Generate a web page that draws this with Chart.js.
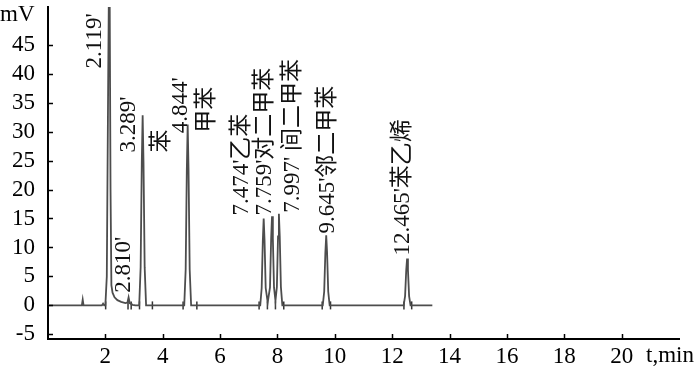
<!DOCTYPE html>
<html>
<head>
<meta charset="utf-8">
<script src="https://cdn.jsdelivr.net/npm/chart.js@4/dist/chart.umd.min.js"></script>
<style>
html,body{margin:0;padding:0;background:#fff;}
#wrap{width:700px;height:372px;position:relative;}
</style>
</head>
<body>
<div id="wrap"><canvas id="c" width="700" height="372"></canvas></div>
<script>
// ---- data ----
const timeMin = [0, 1.18, 1.21, 1.24, 1.88, 1.92, 1.96, 2.00, 2.05, 2.10, 2.14, 2.18, 2.21, 2.25, 2.32, 2.42, 2.55, 2.70, 2.77, 2.81, 2.85, 2.95, 3.05,
  3.18, 3.23, 3.27, 3.30, 3.33, 3.37, 3.42,
  4.75, 4.80, 4.84, 4.87, 4.90, 4.94, 4.99,
  7.40, 7.45, 7.49, 7.52, 7.55, 7.59, 7.66, 7.74, 7.78, 7.81, 7.84, 7.88, 7.93, 7.98, 8.02, 8.05, 8.08, 8.12, 8.17,
  9.58, 9.63, 9.67, 9.70, 9.73, 9.77, 9.82,
  12.40, 12.45, 12.49, 12.52, 12.55, 12.59, 12.64, 13.40];
const signalMV = [0, 0, 1.0, 0, 0, 0.3, 0, 0, 5, 40, 65, 20, 3.5, 2.2, 1.4, 0.9, 0.6, 0.4, 0.5, 1.4, 0.4, 0.1, 0,
  0, 6.6, 24.6, 32.8, 24.6, 6.6, 0,
  0, 6.2, 23.4, 31.2, 23.4, 6.2, 0,
  0, 3.0, 11.2, 15.0, 11.2, 3.0, 0.5, 3.1, 11.5, 15.4, 11.5, 3.1, 0.8, 3.2, 11.9, 15.8, 11.9, 3.2, 0,
  0, 2.4, 9.1, 12.1, 9.1, 2.4, 0,
  0, 1.6, 6.1, 8.1, 6.1, 1.6, 0, 0];
const markerTimes = [2.01, 2.79, 2.90, 3.19, 3.64, 4.71, 5.19, 7.36, 7.65, 7.93, 8.22, 9.56, 9.85, 12.41, 12.68];
const xTickValues = [2, 4, 6, 8, 10, 12, 14, 16, 18, 20];
const yTickValues = [-5, 0, 5, 10, 15, 20, 25, 30, 35, 40, 45];
const peakLabels = ["2.119'", "2.810'", "3.289'", "苯", "4.844'", "甲苯", "7.474'乙苯", "7.759'对二甲苯", "7.997' 间二甲苯", "9.645'邻二甲苯", "12.465'苯乙烯"];
const peakLabelTime = [1.62, 2.64, 2.81, 3.96, 4.62, 5.53, 6.75, 7.57, 8.53, 9.76, 12.37];
const peakLabelValue = [40.9, 2.2, 26.4, 26.4, 29.7, 29.8, 15.5, 15.5, 16.0, 12.4, 8.6];
const yUnit = "mV";
const xUnit = "t,min";

// ---- chart ----
const FONT = '"Liberation Serif", "Times New Roman", "Noto Sans CJK SC", serif';
const lineData = timeMin.map((t, i) => ({x: t, y: signalMV[i]}));
const markerData = markerTimes.map(t => ({x: t, y: 0}));

const decor = {
  id: 'decor',
  afterDraw(chart) {
    const ctx = chart.ctx;
    const xs = chart.scales.x, ys = chart.scales.y;
    const area = chart.chartArea;
    ctx.save();
    ctx.strokeStyle = '#000';
    ctx.lineWidth = 1.5;
    // inward ticks
    xTickValues.forEach(v => {
      const px = Math.round(xs.getPixelForValue(v)) + 0.5;
      ctx.beginPath(); ctx.moveTo(px, area.bottom); ctx.lineTo(px, area.bottom - 5); ctx.stroke();
    });
    yTickValues.forEach(v => {
      const py = Math.round(ys.getPixelForValue(v)) + 0.5;
      ctx.beginPath(); ctx.moveTo(area.left, py); ctx.lineTo(area.left + 5, py); ctx.stroke();
    });
    ctx.fillStyle = '#000';
    ctx.font = '23px ' + FONT;
    ctx.textBaseline = 'middle';
    ctx.textAlign = 'left';
    ctx.fillText(yUnit, 0, 15);
    ctx.fillText(xUnit, 646, 356);
    // peak labels (rotated)
    ctx.fillStyle = '#111';
    peakLabels.forEach((txt, i) => {
      const px = xs.getPixelForValue(peakLabelTime[i]);
      const py = ys.getPixelForValue(peakLabelValue[i]);
      ctx.save();
      ctx.translate(px, py);
      ctx.rotate(-Math.PI / 2);
      ctx.textAlign = 'left';
      ctx.textBaseline = 'middle';
      ctx.fillText(txt, 0, 0);
      ctx.restore();
    });
    ctx.restore();
  }
};

new Chart(document.getElementById('c'), {
  type: 'line',
  data: {
    datasets: [
      {data: lineData, borderColor: '#4d4d4d', borderWidth: 1.8, pointRadius: 0, tension: 0, fill: false},
      {type: 'scatter', data: markerData, pointStyle: 'line', rotation: 90, pointRadius: 4,
       borderColor: '#333', borderWidth: 1.5, backgroundColor: '#333'}
    ]
  },
  options: {
    responsive: false,
    animation: false,
    events: [],
    layout: {padding: {top: 7, right: 21, left: 0, bottom: 0}},
    plugins: {legend: {display: false}, tooltip: {enabled: false}},
    scales: {
      x: {
        type: 'linear', min: 0, max: 22,
        afterBuildTicks: s => { s.ticks = xTickValues.map(v => ({value: v})); },
        afterFit: s => { s.height = 33; s.paddingLeft = 0; s.paddingRight = 0; },
        grid: {display: false, drawTicks: false},
        border: {display: true, color: '#000', width: 2},
        ticks: {font: {family: FONT, size: 23}, color: '#000', padding: 4, maxRotation: 0, autoSkip: false}
      },
      y: {
        type: 'linear', min: -5.8, max: 51.5,
        afterBuildTicks: s => { s.ticks = yTickValues.map(v => ({value: v})); },
        afterFit: s => { s.width = 48; s.paddingTop = 0; s.paddingBottom = 0; },
        grid: {display: false, drawTicks: false},
        border: {display: true, color: '#000', width: 2},
        ticks: {font: {family: FONT, size: 23}, color: '#000', padding: 13, autoSkip: false}
      }
    }
  },
  plugins: [decor]
});
</script>
</body>
</html>
